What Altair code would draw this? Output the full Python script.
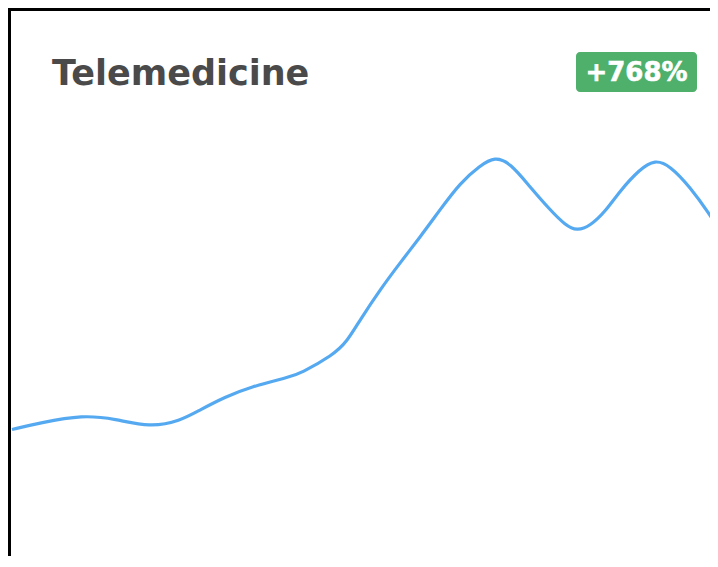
import altair as alt
import pandas as pd

# data
x_pos = [0, 28, 71, 103, 138, 168, 188, 213, 238, 278, 288, 321, 335, 348, 368, 388, 408,
         428, 448, 468, 483, 498, 518, 538, 553, 565, 578, 593, 608, 628, 643, 658, 678, 698, 706]
values = [24.6, 25.8, 27.2, 26.5, 25.0, 26.1, 28.1, 30.4, 32.2, 34.0, 34.6, 37.9, 40.3, 44.2,
          49.6, 54.4, 59.0, 63.9, 68.7, 71.8, 73.4, 72.3, 68.0, 63.9, 61.2, 60.1, 61.0, 63.5,
          67.3, 71.2, 72.9, 71.8, 68.0, 63.0, 60.6]
title_text = ["Telemedicine"]
badge_text = ["+768%"]

W, H = 702, 548

df = pd.DataFrame({"t": x_pos, "v": values})
one = pd.DataFrame({"a": [0]})

line = alt.Chart(df).mark_line(
    color="#55a9f0", strokeWidth=3.2, interpolate="basis", clip=True
).encode(
    x=alt.X("t:Q", scale=alt.Scale(domain=[-4, 698], nice=False, zero=False), axis=None),
    y=alt.Y("v:Q", scale=alt.Scale(domain=[1.97, 100], nice=False, zero=False), axis=None),
)

top_border = alt.Chart(one).mark_rule(color="black", strokeWidth=3).encode(
    x=alt.value(0), x2=alt.value(W), y=alt.value(1.5)
)
left_border = alt.Chart(one).mark_rule(color="black", strokeWidth=3).encode(
    x=alt.value(1.5), y=alt.value(0), y2=alt.value(H)
)

title = alt.Chart(pd.DataFrame({"label": title_text})).mark_text(
    align="left", baseline="alphabetic", font="DejaVu Sans", fontWeight="bold",
    fontSize=35, color="#4a4a4a"
).encode(x=alt.value(44), y=alt.value(77), text="label:N")

badge = alt.Chart(one).mark_rect(color="#4fb06c", cornerRadius=4).encode(
    x=alt.value(568), x2=alt.value(689), y=alt.value(44), y2=alt.value(84)
)
badge_label = alt.Chart(pd.DataFrame({"label": badge_text})).mark_text(
    align="center", baseline="alphabetic", font="DejaVu Sans", fontWeight="bold",
    fontSize=26, color="white", stroke="white", strokeWidth=0.6
).encode(x=alt.value(628.5), y=alt.value(73), text="label:N")

chart = alt.layer(line, top_border, left_border, title, badge, badge_label).properties(
    width=W, height=H, autosize=alt.AutoSizeParams(type="none"), padding=0,
    background="white"
).configure_view(stroke=None)

chart.save("out.html", embed_options={"renderer": "svg", "actions": False})
